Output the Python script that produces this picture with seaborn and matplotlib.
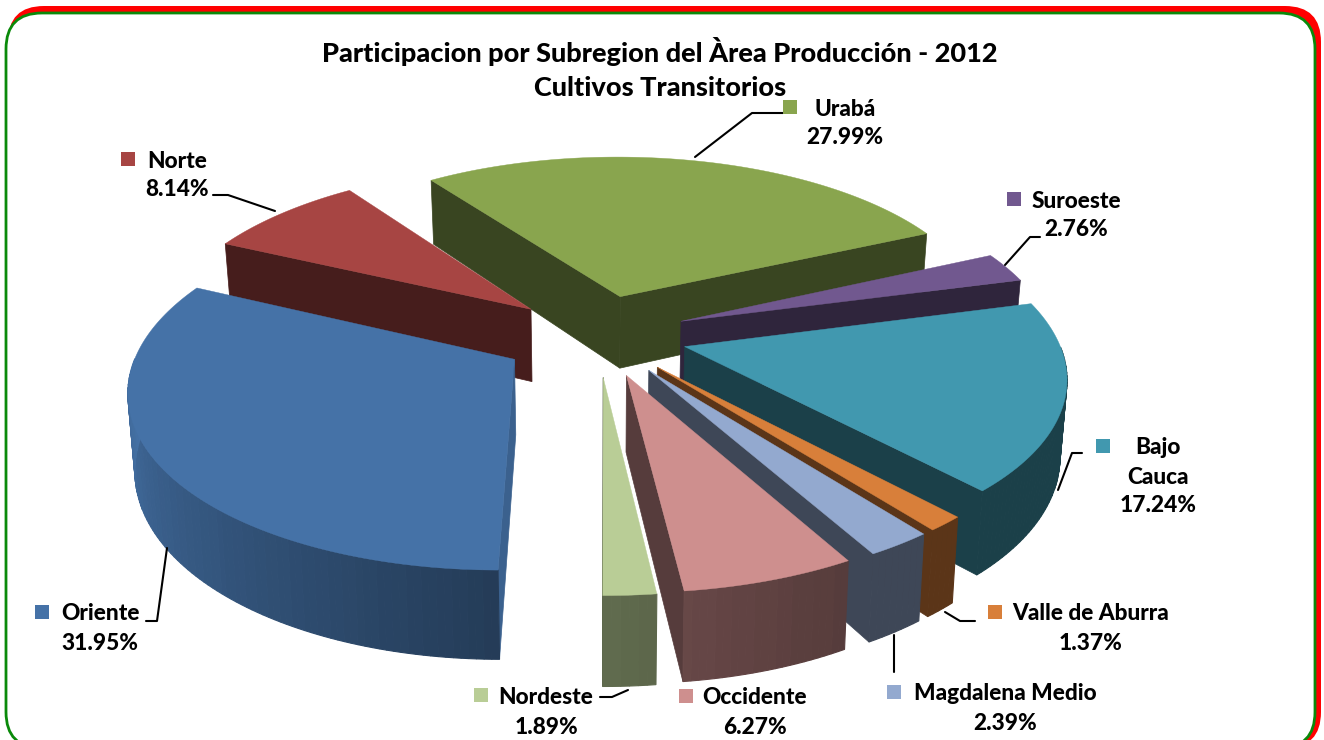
import numpy as np
import matplotlib
matplotlib.use("Agg")
import matplotlib.pyplot as plt
from matplotlib.patches import FancyBboxPatch
import seaborn as sns

# slices in clockwise drawing order, starting at Uraba
subregions = ["Urabá", "Suroeste", "Bajo Cauca", "Valle de Aburra", "Magdalena Medio",
              "Occidente", "Nordeste", "Oriente", "Norte"]
shares = [27.99, 2.76, 17.24, 1.37, 2.39, 6.27, 1.89, 31.95, 8.14]
share_labels = ["27.99%", "2.76%", "17.24%", "1.37%", "2.39%", "6.27%", "1.89%", "31.95%", "8.14%"]
slice_colors = ["#89a54e", "#71588f", "#4198af", "#d87f3a", "#93a9cf",
                "#ce8f8e", "#b9cd96", "#4572a7", "#a74543"]
title_lines = ["Participacion por Subregion del Àrea Producción - 2012", "Cultivos Transitorios"]

# back to front
draw_order = ["Urabá", "Norte", "Suroeste", "Bajo Cauca", "Oriente", "Valle de Aburra",
              "Magdalena Medio", "Occidente", "Nordeste"]

# pie geometry in pixels
CX, CY = 598, 335
R = 372
TILT = 0.46
PERSP = 0.15
DEPTH = 74
EXPLODE = {"Oriente": 0.26}
START = -35.5


def project(u, v, down=0.0):
    s = 1 / (1 - PERSP * v)
    x = CX + R * u * s
    y = CY + R * TILT * v * s
    if down:
        x = CX + (x - CX) * 0.985
        y = y + down * s
    return x, y


def shaded(color, shade):
    return sns.blend_palette(["#000000", color], 101)[int(shade * 100)]


def wall_shade(theta):
    # the front-left of the cylinder catches more light
    return np.interp(theta % 360, [150, 180, 270], [0.42, 0.53, 1.0], right=0.42)


sns.set_theme(style="white")
plt.rcParams["font.family"] = ["Lato", "DejaVu Sans"]

fig = plt.figure(figsize=(13.24, 7.4), dpi=100)
ax = fig.add_axes([0, 0, 1, 1])
ax.set_xlim(0, 1324)
ax.set_ylim(740, 0)
ax.axis("off")

# frame: red shadow behind a white panel with green edge
pad = "round,pad=0,rounding_size=36"
ax.add_patch(FancyBboxPatch((8, 6), 1313, 742, boxstyle=pad, fc="#ff0000", ec="none", zorder=0))
ax.add_patch(FancyBboxPatch((6, 13), 1309, 735, boxstyle=pad, fc="white", ec="#0a8a0a", lw=2, zorder=1))

# start and end angle of every slice, clockwise from the back of the pie
spans = np.array(shares) / sum(shares) * 360
ends = START + np.cumsum(spans)
starts = ends - spans

z = 2
for name in draw_order:
    i = subregions.index(name)
    color = slice_colors[i]
    t0, t1 = starts[i], ends[i]
    mid = np.radians((t0 + t1) / 2)
    e = EXPLODE.get(name, 0.24)
    ou, ov = e * np.sin(mid), -e * np.cos(mid)
    theta = np.linspace(t0, t1, max(int(t1 - t0) + 1, 6))
    us = ou + np.sin(np.radians(theta))
    vs = ov - np.cos(np.radians(theta))

    top_x, top_y = project(us, vs)
    low_x, low_y = project(us, vs, DEPTH)
    ax_top = project(ou, ov)
    ax_low = project(ou, ov, DEPTH)

    # cut faces, only those turned towards the viewer
    for k, normal in ((0, t0 - 90), (-1, t1 + 90)):
        if np.cos(np.radians(normal)) > 0.1:
            continue
        ax.fill([ax_top[0], top_x[k], low_x[k], ax_low[0]],
                [ax_top[1], top_y[k], low_y[k], ax_low[1]],
                color=shaded(color, 0.85 if name == "Oriente" else 0.42),
                lw=0.5, zorder=z)
    # outer wall as small strips for the gradient, front half only
    for k in range(len(theta) - 1):
        if np.cos(np.radians(theta[k])) > 0:
            continue
        ax.fill([top_x[k], top_x[k + 1], low_x[k + 1], low_x[k]],
                [top_y[k], top_y[k + 1], low_y[k + 1], low_y[k]],
                color=shaded(color, wall_shade(theta[k])), lw=0.8, zorder=z + 0.1)
    ax.fill(np.r_[ax_top[0], top_x], np.r_[ax_top[1], top_y], color=color, lw=0.3, zorder=z + 0.2)
    z += 1

# label layout: key square, text centre, leader line
label_layout = {
    "Urabá": ((790, 107), (845, 109), ["Urabá"], [(783, 113), (752, 113), (695, 157)]),
    "Suroeste": ((1014, 199), (1076, 201), ["Suroeste"], [(1040, 237), (1030, 237), (1005, 265)]),
    "Bajo Cauca": ((1103, 446), (1158, 448), ["Bajo", "Cauca"], [(1082, 453), (1072, 453), (1058, 490)]),
    "Valle de Aburra": ((995, 612), (1091, 614), ["Valle de Aburra"], [(975, 621), (960, 621), (945, 612)]),
    "Magdalena Medio": ((894, 692), (1005, 694), ["Magdalena Medio"], [(894, 672), (894, 635)]),
    "Occidente": ((686, 696), (755, 698), ["Occidente"], []),
    "Nordeste": ((481, 695), (546, 698), ["Nordeste"], [(600, 697), (612, 697), (628, 690)]),
    "Oriente": ((42, 612), (100, 614), ["Oriente"], [(146, 621), (157, 621), (167, 548)]),
    "Norte": ((128, 159), (177, 161), ["Norte"], [(213, 195), (228, 195), (275, 211)]),
}
LINE = 29
for i, name in enumerate(subregions):
    key, text_at, lines, leader = label_layout[name]
    ax.scatter(*key, marker="s", s=105, color=slice_colors[i], lw=0, zorder=30)
    for n, line in enumerate(lines + [share_labels[i]]):
        ax.text(text_at[0], text_at[1] + n * LINE, line, ha="center", va="center",
                fontsize=16.3, fontweight="black", color="black", zorder=31)
    if leader:
        ax.plot(*zip(*leader), color="black", lw=1.5, zorder=29)

ax.text(660, 52, title_lines[0], ha="center", va="center", fontsize=19.5, fontweight="black", color="black", zorder=31)
ax.text(660, 88, title_lines[1], ha="center", va="center", fontsize=19.5, fontweight="black", color="black", zorder=31)

fig.savefig("out.png", dpi=100)
